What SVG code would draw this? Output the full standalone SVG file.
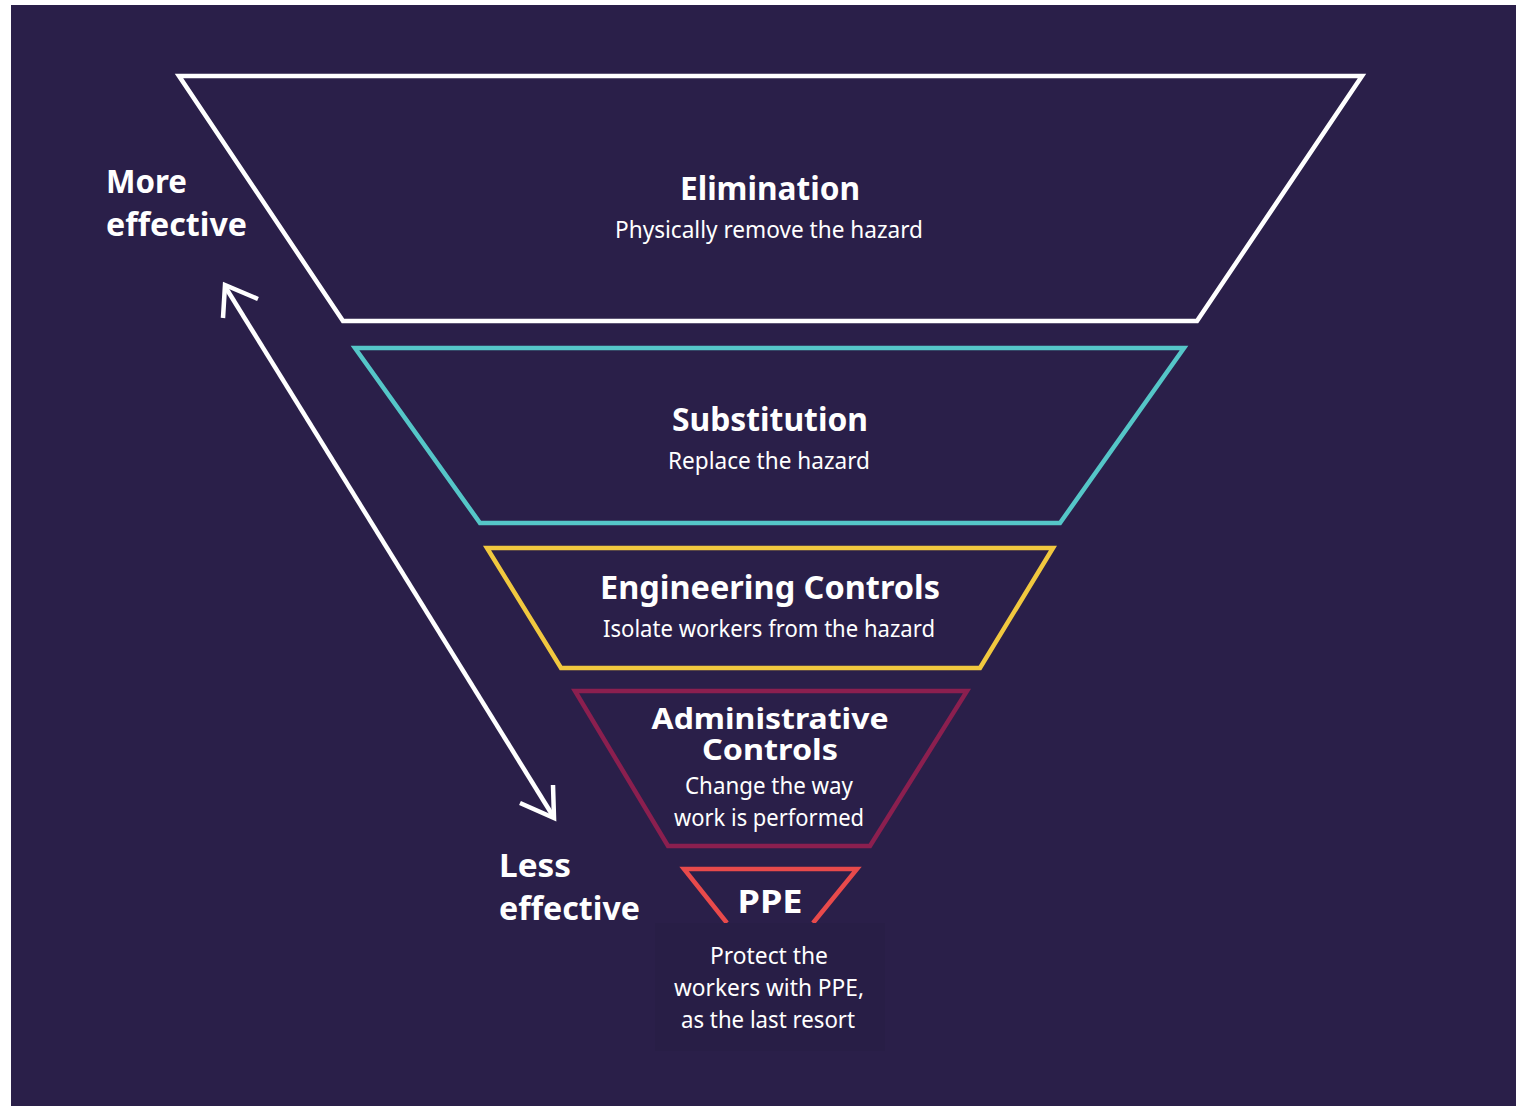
<svg xmlns="http://www.w3.org/2000/svg" width="1516" height="1107" viewBox="0 0 1516 1107">
<defs>
<style>
.bg{fill:#2a1f49}
.tier{fill:none;stroke-width:4.5;stroke-linejoin:miter}
.t{font-family:"Noto Sans","Open Sans",sans-serif;font-weight:bold;font-size:32px;fill:#ffffff;text-anchor:middle}
.ta{font-family:"Noto Sans","Open Sans",sans-serif;font-weight:bold;font-size:29px;fill:#ffffff;text-anchor:middle}
.s{font-family:"Noto Sans","Open Sans",sans-serif;font-size:24px;fill:#ffffff;text-anchor:middle}
.side{font-family:"Noto Sans","Open Sans",sans-serif;font-weight:bold;font-size:32px;fill:#ffffff}
.arrow{fill:none;stroke:#ffffff;stroke-width:4.5;stroke-linecap:butt;stroke-linejoin:miter}
</style>
</defs>
<rect x="0" y="0" width="1516" height="1107" fill="#ffffff"/>
<rect class="bg" x="11" y="5" width="1505" height="1101"/>

<g id="elimination">
<polygon class="tier" stroke="#ffffff" points="179,76 1362,76 1197,321 343,321"/>
<text class="t" x="770" y="200" textLength="180" lengthAdjust="spacingAndGlyphs">Elimination</text>
<text class="s" x="769" y="238" textLength="308" lengthAdjust="spacingAndGlyphs">Physically remove the hazard</text>
</g>

<g id="substitution">
<polygon class="tier" stroke="#55c6c8" points="355,348 1184,348 1060,523 480,523"/>
<text class="t" x="770" y="431" textLength="196" lengthAdjust="spacingAndGlyphs">Substitution</text>
<text class="s" x="769" y="469" textLength="202" lengthAdjust="spacingAndGlyphs">Replace the hazard</text>
</g>

<g id="engineering">
<polygon class="tier" stroke="#f1c83f" points="487,548 1053,548 980,668 561,668"/>
<text class="t" x="770" y="599" textLength="340" lengthAdjust="spacingAndGlyphs">Engineering Controls</text>
<text class="s" x="769" y="637" textLength="332" lengthAdjust="spacingAndGlyphs">Isolate workers from the hazard</text>
</g>

<g id="administrative">
<polygon class="tier" stroke="#8b1f4f" points="575,691 967,691 870,846 668,846"/>
<text class="ta" x="770" y="729" textLength="237" lengthAdjust="spacingAndGlyphs">Administrative</text>
<text class="ta" x="770" y="760" textLength="136" lengthAdjust="spacingAndGlyphs">Controls</text>
<text class="s" x="769" y="794" textLength="168" lengthAdjust="spacingAndGlyphs">Change the way</text>
<text class="s" x="769" y="826" textLength="190" lengthAdjust="spacingAndGlyphs">work is performed</text>
</g>

<g id="ppe">
<polyline class="tier" stroke="#e84a4b" points="727,923 684,869 857,869 813,923"/>
<rect x="655" y="923" width="230" height="128" fill="#281e46"/>
<text class="t" x="770" y="913" textLength="65" lengthAdjust="spacingAndGlyphs">PPE</text>
<text class="s" x="769" y="964" textLength="118" lengthAdjust="spacingAndGlyphs">Protect the</text>
<text class="s" x="769" y="996" textLength="190" lengthAdjust="spacingAndGlyphs">workers with PPE,</text>
<text class="s" x="768" y="1028" textLength="174" lengthAdjust="spacingAndGlyphs">as the last resort</text>
</g>

<g id="more-effective">
<text class="side" x="106" y="193" textLength="81" lengthAdjust="spacingAndGlyphs">More</text>
<text class="side" x="106" y="236" textLength="141" lengthAdjust="spacingAndGlyphs">effective</text>
</g>

<g id="less-effective">
<text class="side" x="499" y="877" textLength="72" lengthAdjust="spacingAndGlyphs">Less</text>
<text class="side" x="499" y="920" textLength="141" lengthAdjust="spacingAndGlyphs">effective</text>
</g>

<g id="connectors">
<line class="arrow" x1="226" y1="288" x2="553" y2="816"/>
<polyline class="arrow" points="223,318 225,285 258,299"/>
<polyline class="arrow" points="520,803 554,818 553,785"/>
</g>
</svg>
